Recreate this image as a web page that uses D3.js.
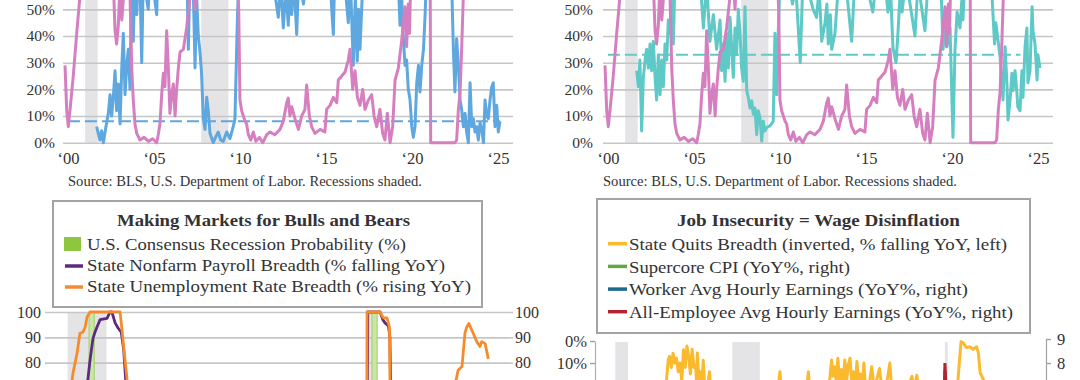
<!DOCTYPE html>
<html><head><meta charset="utf-8">
<script src="https://cdn.jsdelivr.net/npm/d3@7"></script>
<style>
body{margin:0;background:#fff}
svg{display:block}
</style>
</head><body>
<svg id="c" width="1080" height="380"></svg>
<script>
// ---------------- DATA ----------------
const recessions = [[2001.17, 2001.9], [2007.92, 2009.5]];
const recessionsBottom = [[2001.17, 2001.9], [2007.92, 2009.5], [2020.17, 2020.33]];
const topYearTicks = [2000, 2005, 2010, 2015, 2020, 2025];
const topPctTicks = [0, 10, 20, 30, 40, 50];
const sourceText = "Source: BLS, U.S. Department of Labor. Recessions shaded.";

// shared pink series (top panels)
const pinkSeries = [[2000.0,29],[2000.1,12],[2000.19,6],[2000.29,12],[2000.48,25],[2000.68,41],[2000.87,55],[2001.1,78],[2001.4,92],[2001.8,100],[2002.2,98],[2002.6,85],[2002.8,62],[2002.91,42],[2003.0,37],[2003.1,44],[2003.2,60],[2003.3,46],[2003.49,62],[2003.68,58],[2003.78,55],[2003.88,28],[2003.97,16],[2004.07,7],[2004.17,3.5],[2004.36,1],[2004.6,2],[2004.85,0.5],[2005.1,1.5],[2005.33,0],[2005.42,3],[2005.52,7],[2005.62,18],[2005.72,26],[2005.81,21],[2005.91,42],[2006.01,28],[2006.1,11],[2006.2,18],[2006.3,22],[2006.4,10],[2006.49,20],[2006.59,28],[2006.69,34],[2006.88,35],[2007.07,43],[2007.27,55],[2007.45,62],[2007.56,50],[2007.7,70],[2008.0,85],[2008.5,97],[2009.0,100],[2009.6,95],[2009.95,70],[2010.1,50],[2010.17,16],[2010.27,12],[2010.37,10],[2010.47,8],[2010.56,7],[2010.66,3],[2010.8,1],[2010.95,4],[2011.1,0.5],[2011.3,2],[2011.5,0],[2011.73,3],[2011.92,4],[2012.2,3],[2012.5,5],[2012.69,8],[2012.89,15],[2012.98,16.7],[2013.08,10],[2013.18,13.5],[2013.37,9],[2013.57,5],[2013.76,10],[2013.95,12.5],[2014.05,21.6],[2014.21,10],[2014.34,6],[2014.53,3.5],[2014.83,5],[2015.11,4],[2015.21,12.5],[2015.41,14],[2015.6,17],[2015.8,15],[2015.89,23.5],[2016.09,25],[2016.28,26.5],[2016.47,31],[2016.57,35],[2016.73,20],[2016.86,27],[2017.0,17],[2017.15,14],[2017.31,20],[2017.44,12.5],[2017.64,16],[2017.83,18],[2017.97,10],[2018.12,6],[2018.31,12.5],[2018.47,3.5],[2018.6,1],[2018.74,11],[2018.9,0],[2019.05,6],[2019.19,23.5],[2019.38,28],[2019.57,38],[2019.77,51],[2019.86,36],[2019.96,52],[2020.03,41],[2020.15,75],[2020.4,100],[2020.8,100],[2021.1,95],[2021.22,90],[2021.26,0],[2021.6,0],[2022.0,0],[2022.4,0],[2022.67,0],[2022.77,1],[2022.87,12.5],[2022.97,19],[2023.06,35],[2023.16,55],[2023.5,62],[2023.8,76],[2024.1,91],[2024.3,95],[2024.6,88],[2024.9,87],[2025.1,82],[2025.29,80]];

// blue series (top-left) and its average
const blueSeries = [[2001.84,6],[2002.03,1],[2002.13,4.5],[2002.23,0],[2002.38,6],[2002.52,11],[2002.62,18],[2002.71,10],[2002.81,17],[2002.91,27],[2003.0,12],[2003.1,22],[2003.2,7],[2003.3,28],[2003.39,41],[2003.49,18],[2003.59,29],[2003.68,35],[2003.78,20],[2003.88,65],[2003.97,38],[2004.07,65],[2004.17,48],[2004.26,62],[2004.36,60],[2004.46,30],[2004.55,62],[2004.84,50],[2004.94,68],[2005.33,48],[2005.42,70],[2005.9,72],[2006.3,75],[2006.8,68],[2007.07,70],[2007.17,35],[2007.27,65],[2007.45,60],[2007.56,28],[2007.65,55],[2007.75,40],[2007.85,34],[2007.94,26],[2008.04,9],[2008.14,5],[2008.24,17],[2008.33,12],[2008.43,3.5],[2008.62,0],[2008.75,2],[2008.91,4],[2009.05,1],[2009.2,0.5],[2009.4,4],[2009.59,1.5],[2009.78,6],[2009.88,9],[2010.03,48],[2010.13,65],[2010.6,72],[2011.2,68],[2011.9,70],[2012.4,47],[2012.55,60],[2012.69,43],[2012.85,58],[2012.98,44],[2013.08,60],[2013.18,48],[2013.3,62],[2013.47,40.6],[2013.6,65],[2013.86,52],[2014.2,70],[2014.8,66],[2015.3,72],[2015.6,40.6],[2015.7,68],[2016.2,65],[2016.47,45],[2016.6,60],[2016.76,29],[2016.88,55],[2016.99,30.6],[2017.07,50],[2017.15,35],[2017.3,58],[2017.44,65],[2018.0,72],[2018.6,68],[2019.0,70],[2019.38,60],[2019.48,44],[2019.57,55],[2019.67,39],[2019.77,29],[2019.86,31],[2019.96,20],[2020.06,16],[2020.16,6],[2020.25,2],[2020.35,6],[2020.45,22.5],[2020.55,29],[2020.64,19],[2020.74,29],[2020.84,35],[2020.93,47],[2021.03,65],[2021.5,75],[2022.0,72],[2022.48,60],[2022.58,35],[2022.67,19],[2022.77,39],[2022.87,29],[2022.97,16],[2023.06,12.5],[2023.16,6],[2023.26,11],[2023.35,4],[2023.45,0],[2023.55,22.5],[2023.65,6],[2023.74,9],[2023.84,4],[2023.94,6],[2024.03,1],[2024.13,7.5],[2024.23,5],[2024.33,0],[2024.42,16],[2024.52,10],[2024.61,9],[2024.71,16],[2024.81,21],[2024.9,22.5],[2025.0,6],[2025.1,14],[2025.19,4],[2025.29,8]];
const blueAverage = [[2000.17,8],[2025.3,8]];

// teal series (top-right) and its average
const tealSeries = [[2001.84,27],[2001.94,21],[2002.03,31],[2002.13,4.4],[2002.23,24.5],[2002.33,31],[2002.42,35],[2002.52,28],[2002.62,37],[2002.71,27],[2002.81,38],[2002.91,24.5],[2003.0,16],[2003.1,33],[2003.2,18],[2003.3,31],[2003.39,21],[2003.49,37],[2003.59,31],[2003.68,46],[2003.78,41],[2003.88,60],[2003.97,37],[2004.07,62],[2004.5,65],[2005.0,70],[2005.3,60],[2005.52,62],[2005.72,43],[2005.91,60],[2006.1,38],[2006.3,48],[2006.49,35],[2006.69,46],[2006.78,27],[2006.88,37],[2006.98,23],[2007.07,41],[2007.17,28],[2007.27,47],[2007.36,36],[2007.46,24.5],[2007.56,43],[2007.65,33],[2007.75,50],[2007.85,41],[2007.94,28],[2008.04,23],[2008.14,51],[2008.24,19.5],[2008.33,17],[2008.43,13],[2008.53,15.7],[2008.62,10.7],[2008.72,13],[2008.82,3],[2008.91,12],[2009.01,9.4],[2009.11,0.6],[2009.2,8],[2009.3,4.4],[2009.4,5.7],[2009.59,6.3],[2009.78,8],[2009.88,41],[2009.98,18],[2010.07,41],[2010.17,60],[2010.5,68],[2010.9,52],[2011.1,58],[2011.35,30],[2011.5,60],[2011.9,55],[2012.1,50],[2012.3,47],[2012.45,58],[2012.6,38],[2012.79,45],[2012.9,52],[2012.98,37],[2013.1,48],[2013.18,35],[2013.37,41],[2013.6,62],[2014.0,60],[2014.34,38],[2014.5,58],[2015.0,65],[2015.57,49],[2015.8,62],[2016.2,66],[2016.45,49],[2016.6,58],[2016.74,35.6],[2016.92,30],[2017.03,41],[2017.15,55],[2017.27,49],[2017.5,62],[2018.02,40],[2018.2,60],[2018.6,42],[2018.8,62],[2019.19,68],[2019.5,65],[2019.6,46],[2019.65,35],[2019.77,42],[2019.88,36],[2020.06,43],[2020.23,2],[2020.35,35],[2020.47,49],[2020.64,43],[2020.76,55],[2020.81,46],[2020.95,65],[2021.5,72],[2022.0,66],[2022.5,55],[2022.65,37],[2022.72,45],[2022.8,41],[2022.97,32],[2023.14,16],[2023.26,36],[2023.37,22],[2023.43,8.5],[2023.55,16],[2023.66,26],[2023.72,19.5],[2023.84,27],[2023.95,18.5],[2024.0,13.5],[2024.13,12],[2024.24,27],[2024.3,17],[2024.42,36],[2024.53,43],[2024.59,22.5],[2024.71,27],[2024.83,51],[2024.88,42],[2025.0,37],[2025.12,23.5],[2025.17,33],[2025.29,28]];
const tealAverage = [[2000.17,33],[2024.15,33]];

// bottom-left panel
const blTitle = "Making Markets for Bulls and Bears";
const blLegend = ["U.S. Consensus Recession Probability (%)", "State Nonfarm Payroll Breadth (% falling YoY)", "State Unemployment Rate Breadth (% rising YoY)"];
const blTicks = [70, 80, 90, 100];
const recessionProbQuarterly = [25,30,30,35, 50,55,60,100, 65,50,30,25, 20,20,25,25, 20,25,30,35, 30,25,25,25, 25,20,20,20, 15,15,15,15, 15,15,15,15, 20,20,20,15, 15,15,15,15, 15,15,15,20, 25,30,35,30, 25,100,65,50, 25,15,15,15, 25,30,45,65, 65,65,60,50, 35,30,30,25, 25];
const recessionProbStart = 2007;
const payrollBreadth = [[2007.0,5],[2007.5,12],[2008.0,30],[2008.4,50],[2008.65,66],[2008.75,74],[2008.83,81],[2008.95,89.6],[2009.03,92],[2009.11,94],[2009.24,97],[2009.52,97.5],[2009.64,100],[2009.72,100],[2009.85,95.7],[2009.97,93.7],[2010.1,92],[2010.2,85],[2010.3,70],[2010.5,45],[2011.0,15],[2012.0,6],[2013.0,4],[2014.0,2],[2015.0,3],[2016.0,10],[2017.0,6],[2018.0,2],[2019.0,5],[2019.8,12],[2020.08,25],[2020.12,100],[2020.62,100],[2020.73,97],[2020.82,95.7],[2020.96,94.5],[2021.02,90],[2021.08,50],[2021.2,10],[2022.0,0],[2023.0,2],[2024.0,12],[2024.5,25],[2025.0,30]];
const unemploymentBreadth = [[2007.0,28],[2007.4,40],[2007.8,58],[2008.0,66],[2008.14,76],[2008.3,83.5],[2008.42,91.6],[2008.54,92],[2008.63,94],[2008.71,98],[2008.83,100],[2009.5,100],[2010.05,100],[2010.13,93],[2010.21,85],[2010.33,74],[2010.45,55],[2010.7,20],[2011.0,8],[2011.5,2],[2012.0,4],[2012.8,15],[2013.5,7],[2014.0,18],[2014.5,4],[2015.2,13],[2015.8,22],[2016.5,33],[2016.9,18],[2017.5,15],[2018.0,8],[2018.8,2],[2019.3,26],[2019.8,45],[2020.0,55],[2020.08,62],[2020.09,100],[2020.62,100],[2020.75,97.7],[2020.9,97.7],[2021.0,94],[2021.05,45],[2021.1,5],[2021.5,0],[2022.7,0],[2023.0,30],[2023.3,55],[2023.6,68],[2023.79,77],[2023.95,78.5],[2024.07,91.7],[2024.14,94],[2024.23,95.5],[2024.4,91.7],[2024.55,88.3],[2024.68,86.4],[2024.75,88.3],[2024.89,87.5],[2025.02,81.5]];

// bottom-right panel
const brTitle = "Job Insecurity = Wage Disinflation";
const brLegend = ["State Quits Breadth (inverted, % falling YoY, left)", "Supercore CPI (YoY%, right)", "Worker Avg Hourly Earnings (YoY%, right)", "All-Employee Avg Hourly Earnings (YoY%, right)"];
const brLeftTicks = [0, 10, 20];
const brRightTicks = [7, 8, 9];
const quitsBreadth = [[2001.0,40],[2002.0,45],[2003.0,35],[2003.8,25],[2004.1,20],[2004.22,8.6],[2004.3,7],[2004.4,12],[2004.5,5.6],[2004.6,10],[2004.7,7.8],[2004.8,14],[2004.9,10],[2005.0,18],[2005.1,4],[2005.2,12],[2005.3,2.3],[2005.4,7],[2005.5,15],[2005.6,3.8],[2005.7,12],[2005.8,11],[2005.85,18],[2005.9,5.5],[2006.0,20],[2006.05,14],[2006.15,22],[2006.24,8.7],[2006.35,25],[2006.5,20],[2006.6,14],[2006.7,26],[2007.2,35],[2008.0,55],[2009.0,70],[2010.0,40],[2010.5,25],[2010.66,14],[2010.75,24],[2011.5,30],[2012.2,22],[2012.3,14],[2012.4,25],[2013.0,22],[2013.5,20],[2013.64,8.6],[2013.7,16],[2013.8,11.7],[2013.9,18],[2014.0,7.8],[2014.1,19],[2014.2,13],[2014.3,20],[2014.4,8.6],[2014.5,18],[2014.6,11],[2014.7,7.8],[2014.8,19],[2014.9,14],[2015.0,21],[2015.1,9.3],[2015.2,19],[2015.3,15],[2015.4,21],[2015.5,10],[2015.6,22],[2015.8,20],[2015.95,11.7],[2016.1,22],[2016.4,12.5],[2016.55,23],[2016.8,20],[2017.0,10],[2017.1,22],[2017.5,25],[2018.0,22],[2018.27,16],[2018.4,22],[2018.55,15.6],[2018.7,24],[2019.5,28],[2020.0,30],[2020.3,60],[2020.6,35],[2020.9,20],[2021.05,5],[2021.1,0.3],[2021.25,1],[2021.4,3],[2021.6,2.6],[2021.8,3.8],[2022.0,2.6],[2022.1,5.5],[2022.2,14.5],[2022.4,17.7],[2022.7,25],[2023.5,35],[2024.5,45],[2025.2,50]];
const supercoreCPI = [[2000.0,3.2],[2002.0,3.6],[2004.0,2.8],[2006.0,3.3],[2008.0,3.6],[2009.5,2.5],[2011.0,1.8],[2013.0,2.4],[2015.0,2.1],[2017.0,2.5],[2019.0,2.8],[2020.3,1.2],[2021.0,2.0],[2022.0,5.5],[2022.7,6.6],[2023.5,5.0],[2024.0,4.6],[2024.6,4.4],[2025.2,3.7]];
const workerAHE = [[2000.0,3.9],[2001.0,3.8],[2003.0,2.5],[2005.0,2.8],[2007.0,4.1],[2008.5,3.9],[2010.0,2.4],[2012.0,1.4],[2014.0,2.3],[2016.0,2.5],[2018.0,2.8],[2019.5,3.6],[2020.08,3.3],[2020.17,7.7],[2020.25,6.3],[2020.4,5.0],[2021.0,5.0],[2021.25,1.5],[2022.0,6.7],[2023.0,5.0],[2024.0,4.3],[2025.2,4.0]];
const allEmployeeAHE = [[2007.17,3.3],[2008.0,3.6],[2009.0,3.4],[2010.0,2.0],[2011.0,1.9],[2012.0,1.9],[2013.0,2.1],[2014.0,2.0],[2015.0,2.3],[2016.0,2.6],[2017.0,2.7],[2018.0,2.8],[2019.0,3.3],[2020.0,3.0],[2020.08,3.2],[2020.17,8.0],[2020.25,6.7],[2020.33,5.2],[2020.6,4.7],[2021.0,5.3],[2021.25,0.5],[2021.5,4.0],[2022.0,5.6],[2022.5,5.2],[2023.0,4.5],[2023.5,4.4],[2024.0,4.2],[2024.5,3.8],[2025.0,3.9]];

// ---------------- DRAW ----------------
const FONT = '"Liberation Serif","Times New Roman",serif';
const TXT = "#333";
const GRID = "#c6c6c6";
const svg = d3.select("#c");

function styleAxisText(sel, size) {
  sel.selectAll("text").attr("font-family", FONT).attr("font-size", size).attr("fill", TXT);
}

function topPanel(offsetX, series, color, avg, srcX, labelPad) {
  const g = svg.append("g").attr("transform", `translate(${offsetX},0)`);
  const x = d3.scaleLinear().domain([2000, 2025]).range([65, 495]);
  const y = d3.scaleLinear().domain([0, 100]).range([142.7, -124]);
  g.selectAll("rect.rec").data(recessions).join("rect")
    .attr("x", d => x(d[0])).attr("width", d => x(d[1]) - x(d[0]))
    .attr("y", 0).attr("height", y(0)).attr("fill", "#e4e4e6");
  const ya = g.append("g").attr("transform", "translate(63,0)")
    .call(d3.axisLeft(y).tickValues(topPctTicks).tickFormat(d => d + "%").tickSize(-450).tickPadding(labelPad));
  ya.select(".domain").remove();
  ya.selectAll("line").attr("stroke", GRID).attr("stroke-width", 1.6);
  styleAxisText(ya, 15.5);
  const xa = g.append("g").attr("transform", `translate(0,${y(0)})`)
    .call(d3.axisBottom(x).tickValues(topYearTicks).tickFormat(d => "\u2018" + String(d).slice(2)).tickSize(0).tickPadding(9.5));
  xa.select(".domain").remove();
  styleAxisText(xa, 16.5);
  xa.selectAll("text").attr("dx", 3);
  const line = d3.line().x(d => x(d[0])).y(d => y(d[1])).curve(d3.curveLinear);
  g.append("path").datum(series).attr("d", line).attr("fill", "none")
    .attr("stroke", color).attr("stroke-width", 3).attr("stroke-linejoin", "round");
  g.append("path").datum(avg).attr("d", line).attr("fill", "none")
    .attr("stroke", color).attr("stroke-width", 2).attr("stroke-dasharray", "12,5");
  g.append("path").datum(pinkSeries).attr("d", line).attr("fill", "none")
    .attr("stroke", "#d67fc0").attr("stroke-width", 3).attr("stroke-linejoin", "round");
  g.append("text").attr("x", srcX).attr("y", 186).attr("font-family", FONT).attr("font-size", 14)
    .attr("fill", TXT).attr("textLength", 354).attr("lengthAdjust", "spacingAndGlyphs").text(sourceText);
}

topPanel(0, blueSeries, "#5ea7df", blueAverage, 68, 8);
topPanel(540, tealSeries, "#5ec9c7", tealAverage, 63, 10);

// ---- bottom-left ----
(function () {
  svg.append("clipPath").attr("id", "clipBL").append("rect").attr("x", 0).attr("y", 195).attr("width", 540).attr("height", 185);
  const g = svg.append("g").attr("clip-path", "url(#clipBL)");
  const x = d3.scaleLinear().domain([2007, 2025.86]).range([45, 509]);
  const y = d3.scaleLinear().domain([70, 100]).range([388, 312]);
  g.selectAll("rect.rec").data(recessionsBottom.filter(d => d[0] > 2007)).join("rect")
    .attr("x", d => x(d[0])).attr("width", d => x(d[1]) - x(d[0]))
    .attr("y", y(100)).attr("height", 80).attr("fill", "#e4e4e6");
  const ya = g.append("g").attr("transform", `translate(${x.range()[0]},0)`)
    .call(d3.axisLeft(y).tickValues(blTicks).tickSize(-(x.range()[1] - x.range()[0])).tickPadding(4));
  ya.select(".domain").remove();
  ya.selectAll("line").attr("stroke", GRID).attr("stroke-width", 1.6);
  styleAxisText(ya, 16);
  const yr = g.append("g").attr("transform", `translate(${x.range()[1]},0)`)
    .call(d3.axisRight(y).tickValues(blTicks).tickSize(4).tickPadding(2));
  yr.select(".domain").remove();
  yr.selectAll("line").attr("stroke", GRID).attr("stroke-width", 1.6);
  styleAxisText(yr, 16);
  const bars = recessionProbQuarterly.map((v, i) => [recessionProbStart + i / 4, v]);
  g.selectAll("rect.bar").data(bars).join("rect")
    .attr("x", d => x(d[0]) + 1).attr("width", d => x(d[0] + 0.25) - x(d[0]) - 1)
    .attr("y", d => y(Math.min(d[1], 100))).attr("height", d => 400 - y(Math.min(d[1], 100)))
    .attr("fill", "#c9e6a6").attr("stroke", "#9fd066").attr("stroke-width", 1);
  const line = d3.line().x(d => x(d[0])).y(d => y(d[1]));
  g.append("path").datum(payrollBreadth).attr("d", line).attr("fill", "none")
    .attr("stroke", "#5e2a7e").attr("stroke-width", 2.8).attr("stroke-linejoin", "round");
  g.append("path").datum(unemploymentBreadth).attr("d", line).attr("fill", "none")
    .attr("stroke", "#f68b2c").attr("stroke-width", 2.8).attr("stroke-linejoin", "round");
  // legend
  const L = svg.append("g");
  L.append("rect").attr("x", 53).attr("y", 201).attr("width", 429).attr("height", 106)
    .attr("fill", "#fff").attr("stroke", "#a3a3a3").attr("stroke-width", 2);
  L.append("text").attr("x", 263.5).attr("y", 226).attr("text-anchor", "middle")
    .attr("font-family", FONT).attr("font-weight", "bold").attr("font-size", 17.5).attr("fill", TXT)
    .attr("textLength", 293).attr("lengthAdjust", "spacingAndGlyphs").text(blTitle);
  const lens = [319, 358, 384];
  const bases = [250, 271, 292];
  blLegend.forEach((t, i) => {
    L.append("text").attr("x", 87).attr("y", bases[i]).attr("font-family", FONT).attr("font-size", 17.5)
      .attr("fill", TXT).attr("textLength", lens[i]).attr("lengthAdjust", "spacingAndGlyphs").text(t);
  });
  L.append("rect").attr("x", 64).attr("y", 237).attr("width", 17).attr("height", 14).attr("fill", "#8dc63f");
  L.append("line").attr("x1", 65).attr("x2", 83).attr("y1", 266).attr("y2", 266).attr("stroke", "#5e2a7e").attr("stroke-width", 3.5);
  L.append("line").attr("x1", 65).attr("x2", 83).attr("y1", 287).attr("y2", 287).attr("stroke", "#f68b2c").attr("stroke-width", 3.5);
})();

// ---- bottom-right ----
(function () {
  const g = svg.append("g");
  const x = d3.scaleLinear().domain([2000, 2025.94]).range([595, 1045]);
  const yL = d3.scaleLinear().domain([0, 20]).range([341, 385]);
  const yR = d3.scaleLinear().domain([7, 9]).range([387, 339]);
  g.selectAll("rect.rec").data(recessionsBottom).join("rect")
    .attr("x", d => x(d[0])).attr("width", d => x(d[1]) - x(d[0]))
    .attr("y", yL(0) + 1).attr("height", 60).attr("fill", "#e4e4e6");
  const la = g.append("g").attr("transform", "translate(595,0)")
    .call(d3.axisLeft(yL).tickValues(brLeftTicks).tickFormat(d => d + "%").tickSize(5).tickPadding(3).tickSizeOuter(0));
  la.select(".domain").attr("stroke", "#b0b0b0").attr("stroke-width", 1.2);
  la.selectAll("line").attr("stroke", "#a0a0a0").attr("stroke-width", 1.4);
  styleAxisText(la, 16.5);
  const ra = g.append("g").attr("transform", "translate(1046,0)")
    .call(d3.axisRight(yR).tickValues(brRightTicks).tickFormat(d3.format("d")).tickSize(5).tickPadding(6).tickSizeOuter(5));
  ra.select(".domain").attr("stroke", "#a0a0a0").attr("stroke-width", 1.2);
  ra.selectAll("line").attr("stroke", "#a0a0a0").attr("stroke-width", 1.4);
  styleAxisText(ra, 16.5);
  const lineL = d3.line().x(d => x(d[0])).y(d => yL(d[1]));
  const lineR = d3.line().x(d => x(d[0])).y(d => yR(d[1]));
  g.append("path").datum(quitsBreadth).attr("d", lineL).attr("fill", "none")
    .attr("stroke", "#fbb92e").attr("stroke-width", 3).attr("stroke-linejoin", "round");
  g.append("path").datum(supercoreCPI).attr("d", lineR).attr("fill", "none")
    .attr("stroke", "#63a744").attr("stroke-width", 3);
  g.append("path").datum(workerAHE).attr("d", lineR).attr("fill", "none")
    .attr("stroke", "#1c6b8a").attr("stroke-width", 3);
  g.append("path").datum(allEmployeeAHE).attr("d", lineR).attr("fill", "none")
    .attr("stroke", "#b3222f").attr("stroke-width", 3);
  // legend
  const L = svg.append("g");
  L.append("rect").attr("x", 597).attr("y", 199).attr("width", 433).attr("height", 134)
    .attr("fill", "#fff").attr("stroke", "#a3a3a3").attr("stroke-width", 2);
  L.append("text").attr("x", 818.5).attr("y", 226).attr("text-anchor", "middle")
    .attr("font-family", FONT).attr("font-weight", "bold").attr("font-size", 17.5).attr("fill", TXT)
    .attr("textLength", 283).attr("lengthAdjust", "spacingAndGlyphs").text(brTitle);
  const cols = ["#fbb92e", "#63a744", "#1c6b8a", "#b3222f"];
  const lens = [378, 221, 339, 384];
  const bases = [250, 272.7, 295.4, 318];
  brLegend.forEach((t, i) => {
    L.append("text").attr("x", 629).attr("y", bases[i]).attr("font-family", FONT).attr("font-size", 17.5)
      .attr("fill", TXT).attr("textLength", lens[i]).attr("lengthAdjust", "spacingAndGlyphs").text(t);
    L.append("line").attr("x1", 608).attr("x2", 627).attr("y1", bases[i] - 6.3).attr("y2", bases[i] - 6.3)
      .attr("stroke", cols[i]).attr("stroke-width", 3.5);
  });
})();
</script>
</body></html>
